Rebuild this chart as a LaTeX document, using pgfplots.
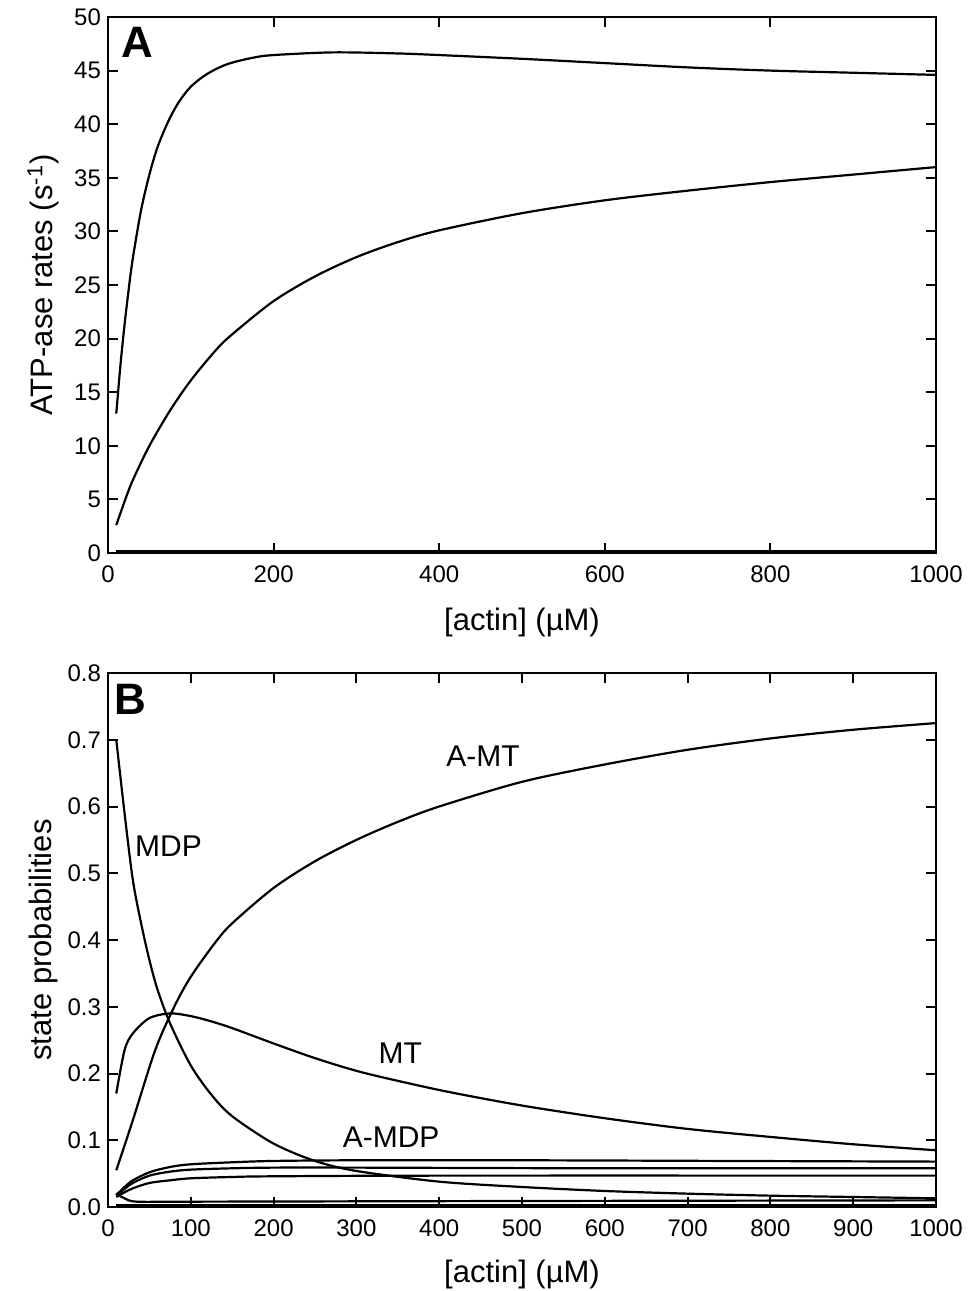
\documentclass[border=0pt]{standalone}
\usepackage{pgfplots}
\pgfplotsset{compat=1.18}
\usepackage{fontspec}
\setmainfont{Liberation Sans}
\setsansfont{Liberation Sans}

\pgfplotsset{
  panel/.style={
    scale only axis, width=414pt,
    xmin=0, xmax=1000,
    tick align=inside, major tick length=5pt,
    axis line style={line width=1.2pt},
    every tick/.style={black, line width=1pt},
    tick label style={font=\fontsize{12}{14}\selectfont},
    xticklabel style={yshift=-3pt},
    label style={font=\fontsize{15.5}{17}\selectfont},
    /pgf/number format/assume math mode=true,
    /pgf/number format/1000 sep={},
    ylabel style={at={(axis description cs:-0.078,0.5)}, anchor=center},
    clip=true,
  },
}
\tikzset{
  crv/.style={black, line width=1.1pt, smooth, mark=none},
  lab/.style={font=\fontsize{15}{17}\selectfont},
}

\begin{document}
\begin{tikzpicture}
\useasboundingbox (-54pt,-369pt) rectangle (435.5pt,276.5pt);

% panel A
\begin{axis}[panel, height=268pt, at={(0,0)},
  ymin=0, ymax=50, ytick={0,5,...,50}, xtick={0,200,...,1000},
  xlabel={[actin] (µM)}, ylabel={ATP-ase rates (s\textsuperscript{-1})},
  xlabel style={at={(axis description cs:0.5,-0.129)}, anchor=center},
]
\addplot[crv] coordinates {
  (10,13) (15,17.5) (20,21.3) (25,24.6) (30,27.5) (40,32) (50,35.3)
  (60,37.9) (73,40.3) (85,42) (100,43.5) (120,44.7) (144,45.6) (175,46.2)
  (200,46.45) (272,46.7) (350,46.6) (400,46.45) (500,46.1) (600,45.7)
  (700,45.3) (800,45.0) (900,44.8) (1000,44.6)};
\addplot[crv] coordinates {
  (10,2.6) (20,4.8) (30,6.8) (50,10) (75,13.3) (100,16.1) (130,18.9)
  (150,20.4) (200,23.5) (250,25.8) (300,27.6) (350,29) (400,30.1)
  (500,31.7) (600,32.9) (700,33.8) (800,34.6) (900,35.3) (1000,36)};
\addplot[crv] coordinates {(10,0.15) (500,0.15) (1000,0.15)};
\node[font=\bfseries\fontsize{22}{24}\selectfont] at (axis cs:35,47.6) {A};
\end{axis}

% panel B
\begin{axis}[panel, height=267pt, at={(0,-327pt)},
  ymin=0, ymax=0.8, ytick={0,0.1,...,0.8}, xtick={0,100,...,1000},
  yticklabel style={/pgf/number format/.cd, fixed, fixed zerofill, precision=1},
  xlabel={[actin] (µM)}, ylabel={state probabilities},
  xlabel style={at={(axis description cs:0.5,-0.127)}, anchor=center},
]
% MDP
\addplot[crv] coordinates {
  (10,0.70) (20,0.59) (30,0.49) (40,0.425) (50,0.37) (60,0.325) (75,0.275)
  (100,0.212) (125,0.168) (150,0.136) (200,0.095) (250,0.069) (300,0.054)
  (400,0.038) (500,0.03) (600,0.024) (700,0.02) (800,0.017) (900,0.015)
  (1000,0.013)};
% A-MT
\addplot[crv] coordinates {
  (10,0.055) (30,0.13) (57,0.235) (80,0.30) (100,0.345) (130,0.397)
  (150,0.425) (200,0.478) (250,0.518) (300,0.55) (350,0.577) (400,0.60)
  (500,0.637) (600,0.663) (700,0.685) (800,0.702) (900,0.715) (1000,0.725)};
% MT
\addplot[crv] coordinates {
  (10,0.17) (20,0.235) (30,0.26) (50,0.283) (75,0.29) (100,0.286)
  (125,0.278) (150,0.268) (200,0.245) (250,0.223) (300,0.204) (350,0.189)
  (413,0.172) (500,0.152) (600,0.133) (700,0.117) (800,0.105) (900,0.094)
  (1000,0.085)};
% A-MDP family
\addplot[crv] coordinates {
  (10,0.018) (20,0.03) (30,0.04) (50,0.052) (75,0.06) (100,0.064)
  (150,0.067) (200,0.069) (300,0.07) (500,0.07) (750,0.069) (1000,0.068)};
\addplot[crv] coordinates {
  (10,0.017) (20,0.027) (30,0.036) (50,0.047) (75,0.053) (100,0.056)
  (150,0.058) (200,0.059) (300,0.059) (600,0.058) (1000,0.058)};
\addplot[crv] coordinates {
  (10,0.015) (20,0.022) (30,0.028) (50,0.036) (75,0.04) (100,0.043)
  (150,0.045) (200,0.046) (400,0.047) (1000,0.047)};
% small states
\addplot[crv] coordinates {
  (10,0.02) (20,0.013) (35,0.008) (100,0.008) (500,0.009) (1000,0.01)};
\addplot[crv] coordinates {(10,0.003) (500,0.003) (1000,0.003)};
\node[font=\bfseries\fontsize{22}{24}\selectfont] at (axis cs:27,0.76) {B};
\node[lab] at (axis cs:73,0.54) {MDP};
\node[lab] at (axis cs:453,0.675) {A-MT};
\node[lab] at (axis cs:353,0.231) {MT};
\node[lab] at (axis cs:342,0.105) {A-MDP};
\end{axis}
\end{tikzpicture}
\end{document}
